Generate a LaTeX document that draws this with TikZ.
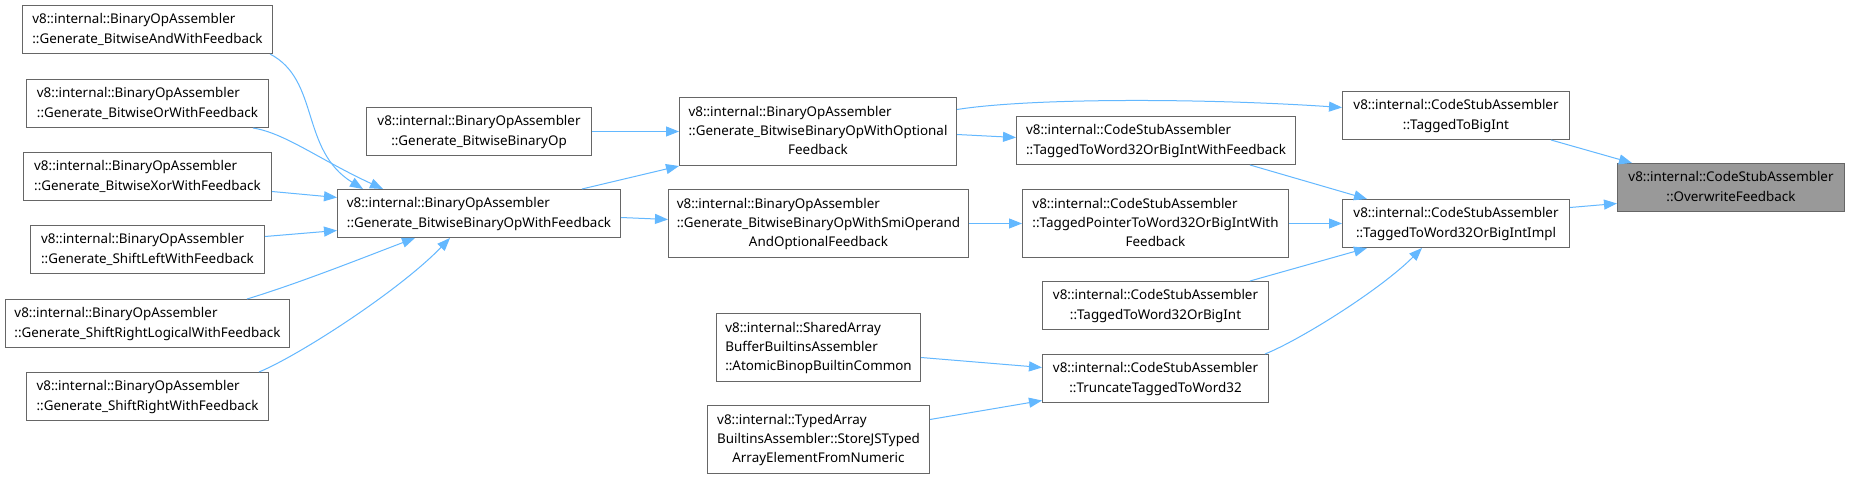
\documentclass[tikz,border=0pt]{standalone}
\usepackage{fontspec}
\newfontfamily\dxfont{Noto Sans}
\usetikzlibrary{arrows.meta,calc}
\definecolor{edgeblue}{HTML}{63B8FF}
\definecolor{boxgray}{HTML}{666666}
\definecolor{hilite}{HTML}{999999}
% all lines but the last flush left, the last one centred
\newcommand{\fnlines}[2]{\begin{tabular}{@{}l@{}}#1\\\multicolumn{1}{@{}c@{}}{#2}\end{tabular}}

\begin{document}
\begin{tikzpicture}[x=1pt,y=-1pt,
  fnbox/.style={draw=boxgray,line width=1pt,fill=white,inner sep=0pt,anchor=north west,minimum height=48pt,font=\dxfont\fontsize{13.4}{19.3}\selectfont},
  tall/.style={minimum height=68pt},
  call/.style={-{Triangle[length=13pt,width=10pt]},line width=1pt,edgeblue}]
\useasboundingbox[fill=white] (0,0) rectangle (1849,478);
% callers of Generate_BitwiseBinaryOpWithFeedback
\node[fnbox,minimum width=250pt] (andfb) at (22,5) {\fnlines{v8::internal::BinaryOpAssembler}{::Generate\_BitwiseAndWithFeedback}};
\node[fnbox,minimum width=242pt] (orfb) at (26,79) {\fnlines{v8::internal::BinaryOpAssembler}{::Generate\_BitwiseOrWithFeedback}};
\node[fnbox,minimum width=248pt] (xorfb) at (23,152) {\fnlines{v8::internal::BinaryOpAssembler}{::Generate\_BitwiseXorWithFeedback}};
\node[fnbox,minimum width=234pt] (shl) at (30,225) {\fnlines{v8::internal::BinaryOpAssembler}{::Generate\_ShiftLeftWithFeedback}};
\node[fnbox,minimum width=284pt] (shrl) at (5,299) {\fnlines{v8::internal::BinaryOpAssembler}{::Generate\_ShiftRightLogicalWithFeedback}};
\node[fnbox,minimum width=242pt] (shr) at (26,372) {\fnlines{v8::internal::BinaryOpAssembler}{::Generate\_ShiftRightWithFeedback}};
% BinaryOpAssembler column
\node[fnbox,minimum width=225pt] (bop) at (366,107) {\fnlines{v8::internal::BinaryOpAssembler}{::Generate\_BitwiseBinaryOp}};
\node[fnbox,minimum width=283pt] (bopfb) at (337,189) {\fnlines{v8::internal::BinaryOpAssembler}{::Generate\_BitwiseBinaryOpWithFeedback}};
\node[fnbox,tall,minimum width=277pt] (bopopt) at (679,97) {\fnlines{v8::internal::BinaryOpAssembler\\::Generate\_BitwiseBinaryOpWithOptional}{Feedback}};
\node[fnbox,tall,minimum width=300pt] (bopsmi) at (668,189) {\fnlines{v8::internal::BinaryOpAssembler\\::Generate\_BitwiseBinaryOpWithSmiOperand}{AndOptionalFeedback}};
\node[fnbox,tall,minimum width=204pt] (atomic) at (716,313) {\fnlines{v8::internal::SharedArray\\BufferBuiltinsAssembler}{::AtomicBinopBuiltinCommon}};
\node[fnbox,tall,minimum width=222pt] (typed) at (707,405) {\fnlines{v8::internal::TypedArray\\BuiltinsAssembler::StoreJSTyped}{ArrayElementFromNumeric}};
% CodeStubAssembler
\node[fnbox,minimum width=279pt] (t32fb) at (1016,116) {\fnlines{v8::internal::CodeStubAssembler}{::TaggedToWord32OrBigIntWithFeedback}};
\node[fnbox,tall,minimum width=266pt] (tpfb) at (1022,189) {\fnlines{v8::internal::CodeStubAssembler\\::TaggedPointerToWord32OrBigIntWith}{Feedback}};
\node[fnbox,minimum width=226pt] (t32) at (1042,281) {\fnlines{v8::internal::CodeStubAssembler}{::TaggedToWord32OrBigInt}};
\node[fnbox,minimum width=226pt] (trunc) at (1042,354) {\fnlines{v8::internal::CodeStubAssembler}{::TruncateTaggedToWord32}};
\node[fnbox,minimum width=227pt] (tbig) at (1342,91) {\fnlines{v8::internal::CodeStubAssembler}{::TaggedToBigInt}};
\node[fnbox,minimum width=227pt] (impl) at (1342,199) {\fnlines{v8::internal::CodeStubAssembler}{::TaggedToWord32OrBigIntImpl}};
\node[fnbox,fill=hilite,minimum width=227pt] (overw) at (1617,163) {\fnlines{v8::internal::CodeStubAssembler}{::OverwriteFeedback}};
% edges
\foreach \a/\b in {bop/bopopt,bopsmi/tpfb,tpfb/impl}{\draw[call] (\a.east) -- (\b.west);}
\draw[call] ([xshift=248pt]andfb.south west) .. controls (320,80) and (300,150) .. ([xshift=26pt]bopfb.north west);
\draw[call] ([xshift=227pt]orfb.south west) .. controls (285,133) and (320,160) .. ([xshift=46pt]bopfb.north west);
\draw[call] ([yshift=-15pt]xorfb.east) -- ([yshift=16pt]bopfb.west);
\draw[call] ([yshift=13pt]shl.east) -- ([yshift=-17pt]bopfb.west);
\draw[call] ([xshift=242pt]shrl.north west) .. controls (300,283) and (370,255) .. ([xshift=78pt]bopfb.south west);
\draw[call] ([xshift=233pt]shr.north west) .. controls (300,355) and (400,290) .. ([xshift=113pt]bopfb.south west);
\draw[call] ([xshift=245pt]bopfb.north west) -- (bopopt.south west);
\draw[call] ([yshift=-4pt]bopfb.east) -- ([yshift=4pt]bopsmi.west);
\draw[call] ([yshift=22pt]bopopt.east) .. controls (1030,98) and (1200,98) .. ([yshift=8pt]tbig.west);
\draw[call] ([yshift=-3pt]bopopt.east) -- ([yshift=3pt]t32fb.west);
\draw[call] ([xshift=234pt]t32fb.south west) -- ([xshift=25pt]impl.north west);
\draw[call] ([xshift=208pt]t32.north west) -- ([xshift=25pt]impl.south west);
\draw[call] ([xshift=223pt]trunc.north west) .. controls (1300,340) and (1380,290) .. ([xshift=80pt]impl.south west);
\draw[call] ([yshift=-10pt]atomic.east) -- ([yshift=11pt]trunc.west);
\draw[call] ([yshift=20pt]typed.east) -- ([yshift=-22pt]trunc.west);
\draw[call] ([xshift=209pt]tbig.south west) -- ([xshift=15pt]overw.north west);
\draw[call] ([yshift=16pt]impl.east) -- ([yshift=-16pt]overw.west);
\end{tikzpicture}
\end{document}
